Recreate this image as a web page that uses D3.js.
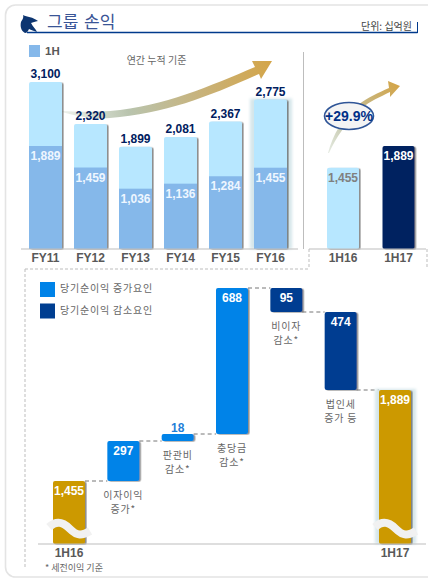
<!DOCTYPE html>
<html>
<head>
<meta charset="utf-8">
<script src="https://cdn.jsdelivr.net/npm/d3@7"></script>
<style>
  html, body { margin: 0; padding: 0; background: #fff; overflow: hidden; }
  svg { display: block; }
  text { font-family: "Liberation Sans", Arial, sans-serif; }
  .kr { font-family: "Noto Sans CJK KR", sans-serif; }
</style>
</head>
<body>
<svg id="chart" width="428" height="580"></svg>
<script>
const fiscal_years = ["FY11", "FY12", "FY13", "FY14", "FY15", "FY16"];
const full_year_values = [3100, 2320, 1899, 2081, 2367, 2775];
const first_half_values = [1889, 1459, 1036, 1136, 1284, 1455];

const half_labels = ["1H16", "1H17"];
const half_values = [1455, 1889];
const growth_label = "+29.9%";

const bridge_names = ["1H16", "이자이익", "판관비", "충당금", "비이자", "법인세", "1H17"];
const bridge_deltas = [1455, 297, 18, 688, -95, -474, 1889];
const bridge_captions = [null, ["이자이익", "증가*"], ["판관비", "감소*"], ["충당금", "감소*"], ["비이자", "감소*"], ["법인세", "증가 등"], null];

const COLOR_FULL = "#b7e7ff";
const COLOR_HALF = "#85b8ea";
const COLOR_UP = "#0083e8";
const COLOR_DOWN = "#003e91";
const COLOR_TOTAL = "#cc9900";
const COLOR_NAVY = "#002060";
const COLOR_GRAY = "#595959";
const COLOR_KR = "#666";
const COLOR_LINE = "#bdbdbd";

let svg = d3.select("#chart");

function add_text(parent, x, y, str, size, color, opts) {
  opts = opts || {};
  return parent.append("text")
    .attr("class", opts.kr ? "kr" : null)
    .attr("x", x)
    .attr("y", y)
    .attr("dy", "0.35em")
    .attr("text-anchor", opts.anchor || "middle")
    .style("font-size", size + "px")
    .style("font-weight", opts.bold ? "bold" : "normal")
    .style("fill", color)
    .text(str);
}

function add_line(x1, y1, x2, y2, color, width, dash) {
  return svg.append("line")
    .attr("x1", x1).attr("y1", y1).attr("x2", x2).attr("y2", y2)
    .style("stroke", color)
    .style("stroke-width", width)
    .style("stroke-dasharray", dash || null);
}

// Pale glow behind the last bar of a chart
function add_halo(x, y, w, h) {
  svg.append("rect")
    .attr("x", x - 4).attr("y", y - 1)
    .attr("width", w + 9).attr("height", h + 1)
    .attr("filter", "url(#halo)")
    .style("fill", "#d5e6ea");
}

// Defs
let defs = svg.append("defs");
let shadow = defs.append("filter").attr("id", "shadow")
  .attr("x", "-20%").attr("y", "-50%").attr("width", "150%").attr("height", "200%");
shadow.append("feDropShadow")
  .attr("dx", 1.6).attr("dy", 0.6).attr("stdDeviation", 0.7)
  .attr("flood-color", "#444").attr("flood-opacity", 0.6);
defs.append("filter").attr("id", "halo")
  .append("feGaussianBlur").attr("stdDeviation", 1.5);

let arrow_grad = defs.append("linearGradient").attr("id", "arrow-left")
  .attr("gradientUnits", "userSpaceOnUse")
  .attr("x1", 62).attr("y1", 112).attr("x2", 272).attr("y2", 62);
arrow_grad.append("stop").attr("offset", 0).attr("stop-color", "#eef1ec");
arrow_grad.append("stop").attr("offset", 0.3).attr("stop-color", "#b9c4ae");
arrow_grad.append("stop").attr("offset", 0.65).attr("stop-color", "#c8b27a");
arrow_grad.append("stop").attr("offset", 1).attr("stop-color", "#d4a548");

let arrow_grad_r = defs.append("linearGradient").attr("id", "arrow-right")
  .attr("gradientUnits", "userSpaceOnUse")
  .attr("x1", 328).attr("y1", 153).attr("x2", 400).attr("y2", 86);
arrow_grad_r.append("stop").attr("offset", 0).attr("stop-color", "#e6ece4");
arrow_grad_r.append("stop").attr("offset", 0.4).attr("stop-color", "#bfc0a0");
arrow_grad_r.append("stop").attr("offset", 1).attr("stop-color", "#d4a548");

// Card and header
svg.append("rect")
  .attr("x", 5.5).attr("y", 5).attr("width", 450).attr("height", 572).attr("rx", 10)
  .style("fill", "#fff").style("stroke", "#e4e4e4").style("stroke-width", 1.6);

svg.append("path")
  .attr("d", "M23,15 C27,17 33,17 38,21 C35,22 33,22 31,23 C33,27 36,29 37,32 C34,31 31,30 29,29 C28,31 27,33 25,33 C21,31 20,26 21,22 C22,20 24,18 23,15 Z")
  .style("fill", "#0d3570");
add_text(svg, 47, 22, "그룹 손익", 17, "#3a5596", { kr: true, anchor: "start" }).style("word-spacing", "2px");
add_text(svg, 412, 26, "단위: 십억원", 10, "#444", { kr: true, anchor: "end" });
add_line(27, 32.5, 417.5, 32.5, "#003a8c", 1.4);
add_line(417.5, 22, 417.5, 33, "#003a8c", 1);

// Annual chart
let x_year = d3.scalePoint().domain(fiscal_years).range([45.5, 270.5]);
let y_year = d3.scaleLinear().domain([0, 3100]).range([249, 82]);
let y_half = d3.scaleLinear().domain([-170, 1889]).range([249, 146]);
const BAR_W = 33;

svg.append("rect").attr("x", 29).attr("y", 45).attr("width", 11).attr("height", 12).style("fill", COLOR_HALF);
add_text(svg, 45, 50.5, "1H", 11.5, COLOR_GRAY, { bold: true, anchor: "start" });
add_text(svg, 156.5, 60, "연간 누적 기준", 10, COLOR_KR, { kr: true });

svg.append("path")
  .attr("d", "M62,111 C78,112 95,112 110,111 C165,106 210,86 255,67 L252,61 L272,61 L261,79 L259,74 C210,96 165,114 110,118 C92,119 76,116 62,112 Z")
  .style("fill", "url(#arrow-left)");

let year_groups = svg.selectAll("g.year").data(fiscal_years).join("g").attr("class", "year");
year_groups.each(function (name, i) {
  let g = d3.select(this);
  let left = x_year(name) - BAR_W / 2;
  if (i === fiscal_years.length - 1) {
    add_halo(left, y_year(full_year_values[i]), BAR_W, y_year(0) - y_year(full_year_values[i]));
  }
  g.raise();
  g.append("rect")
    .attr("x", left).attr("y", y_year(full_year_values[i]))
    .attr("width", BAR_W).attr("height", y_year(0) - y_year(full_year_values[i]))
    .attr("rx", 2)
    .attr("filter", "url(#shadow)")
    .style("fill", COLOR_FULL);
  g.append("rect")
    .attr("x", left).attr("y", y_half(first_half_values[i]))
    .attr("width", BAR_W).attr("height", y_half(-170) - y_half(first_half_values[i]))
    .style("fill", COLOR_HALF);
  add_text(g, x_year(name), y_year(full_year_values[i]) - 8, d3.format(",")(full_year_values[i]), 12, COLOR_NAVY, { bold: true });
  add_text(g, x_year(name), y_half(first_half_values[i]) + 10, d3.format(",")(first_half_values[i]), 12, "#eef6ff", { bold: true });
  add_text(g, x_year(name), 258, name, 12, COLOR_GRAY, { bold: true });
});
add_line(21, 249, 298, 249, COLOR_LINE, 1);
add_line(303.5, 52, 303.5, 249, COLOR_LINE, 1);

// Half year chart
let x_half = d3.scalePoint().domain(half_labels).range([343, 398.5]);
const half_colors = [COLOR_FULL, COLOR_NAVY];
const half_text = ["#808080", "#fff"];

svg.append("path")
  .attr("d", "M328,153 C333,135 342,118 358,105 C368,97 378,93 389,88 L388,81 L400,86 L390,97 L390,92 C380,97 370,101 362,108 C346,122 336,138 329,153 Z")
  .style("fill", "url(#arrow-right)");

half_labels.forEach((name, i) => {
  let top = y_half(half_values[i]);
  svg.append("rect")
    .attr("x", x_half(name) - 16).attr("y", top)
    .attr("width", 32).attr("height", y_half(-170) - top)
    .attr("rx", 2)
    .attr("filter", "url(#shadow)")
    .style("fill", half_colors[i]);
  add_text(svg, x_half(name), top + 10, d3.format(",")(half_values[i]), 12, half_text[i], { bold: true });
  add_text(svg, x_half(name), 258, name, 12, COLOR_GRAY, { bold: true });
});
add_line(309, 249, 426, 249, COLOR_LINE, 1);

svg.append("ellipse")
  .attr("cx", 349).attr("cy", 116).attr("rx", 24.5).attr("ry", 13.5)
  .style("fill", "#f4f4f4").style("stroke", "#2f5597").style("stroke-width", 1.6);
add_text(svg, 349, 116, growth_label, 14, "#003087", { bold: true });

// Dashed frame of the lower panel
const FRAME_DASH = "3,2";
add_line(25, 269, 309, 269, COLOR_LINE, 1, FRAME_DASH);
add_line(309, 249, 309, 269, COLOR_LINE, 1, FRAME_DASH);
add_line(427, 249, 427, 269, COLOR_LINE, 1, FRAME_DASH);
add_line(25, 269, 25, 567, COLOR_LINE, 1, FRAME_DASH);

// Legend of the bridge
const bridge_legend = [["당기순이익 증가요인", COLOR_UP], ["당기순이익 감소요인", COLOR_DOWN]];
bridge_legend.forEach((d, i) => {
  let y = 282 + i * 21.5;
  svg.append("rect").attr("x", 40).attr("y", y).attr("width", 15).attr("height", 15).style("fill", d[1]);
  add_text(svg, 60, y + 6.5, d[0], 10, COLOR_KR, { kr: true, anchor: "start" }).style("letter-spacing", "0.8px");
});

// Bridge chart. The source is not drawn to scale and its axis is broken,
// so the value axis is piecewise.
let x_bridge = d3.scalePoint().domain(bridge_names).range([69, 395]);
let y_bridge = d3.scaleLinear()
  .domain([1000, 1455, 1752, 1770, 1889, 2363, 2458])
  .range([544, 481, 441, 434, 390, 312, 288]);
const BRIDGE_W = 32;

let running = 0;
let bridge_rows = bridge_names.map((name, i) => {
  let is_total = i === 0 || i === bridge_names.length - 1;
  let start = is_total ? 1000 : running;
  let end = is_total ? bridge_deltas[i] : running + bridge_deltas[i];
  running = end;
  return { name, i, is_total, start, end };
});

// Connectors go under the bars
bridge_rows.slice(0, -1).forEach((d) => {
  let x1 = x_bridge(d.name) + BRIDGE_W / 2;
  let x2 = x_bridge(bridge_names[d.i + 1]) - BRIDGE_W / 2;
  add_line(x1, y_bridge(d.end), x2, y_bridge(d.end), "#777", 1, "4,3");
});

bridge_rows.forEach((d) => {
  let cx = x_bridge(d.name);
  let top = y_bridge(Math.max(d.start, d.end));
  let bottom = y_bridge(Math.min(d.start, d.end));
  let fill = d.is_total ? COLOR_TOTAL : (d.end > d.start ? COLOR_UP : COLOR_DOWN);
  if (d.i === bridge_names.length - 1) {
    add_halo(cx - BRIDGE_W / 2, top, BRIDGE_W, bottom - top);
  }
  svg.append("rect")
    .attr("x", cx - BRIDGE_W / 2).attr("y", top)
    .attr("width", BRIDGE_W).attr("height", bottom - top)
    .attr("rx", 2)
    .attr("filter", "url(#shadow)")
    .style("fill", fill);

  let value_str = d3.format(",")(Math.abs(bridge_deltas[d.i]));
  if (bottom - top < 12) {
    add_text(svg, cx, top - 6, value_str, 12, "#1f7fd8", { bold: true });
  } else {
    add_text(svg, cx, top + 10, value_str, 12, "#fff", { bold: true });
  }

  if (bridge_captions[d.i]) {
    bridge_captions[d.i].forEach((line, j) => {
      add_text(svg, cx, bottom + 14 + j * 14.5, line, 10, COLOR_KR, { kr: true }).style("letter-spacing", "0.8px");
    });
  }

  // Axis break on the two totals
  if (d.is_total) {
    svg.append("path")
      .attr("transform", `translate(${cx},0)`)
      .attr("d", "M-20,527 C-12,520 -6,522 1,529 S13,536 21,531")
      .style("fill", "none")
      .style("stroke", "#f1f1f1")
      .style("stroke-width", 8);
    add_text(svg, cx, 553, d.name, 12, COLOR_GRAY, { bold: true });
  }
});
add_line(38, 544, 426, 544, COLOR_LINE, 1);
add_text(svg, 45, 568, "* 세전이익 기준", 9, COLOR_KR, { kr: true, anchor: "start" });
</script>
</body>
</html>
